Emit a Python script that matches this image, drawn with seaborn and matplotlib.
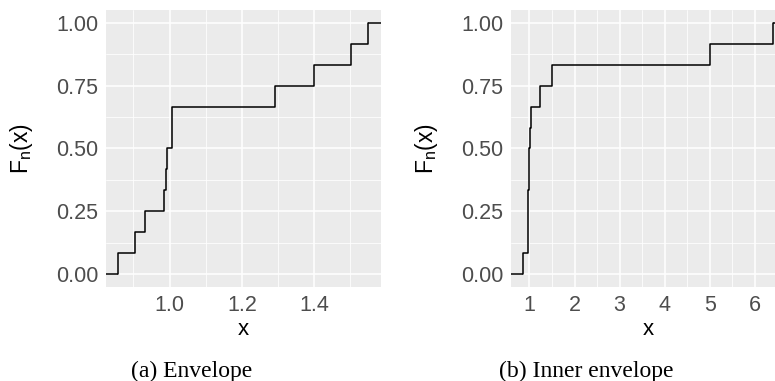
import numpy as np
import pandas as pd
import matplotlib
matplotlib.use("Agg")
import matplotlib.pyplot as plt
import seaborn as sns
from matplotlib.ticker import MultipleLocator

# ---- data ----
envelope = [0.8586, 0.9039, 0.9331, 0.9840, 0.9912, 0.9939,
            1.0070, 1.0080, 1.2906, 1.4000, 1.5014, 1.5503]
inner_envelope = [0.867, 0.968, 0.972, 0.976, 0.980, 1.000,
                  1.003, 1.044, 1.244, 1.497, 5.013, 6.390]
captions = ["(a) Envelope", "(b) Inner envelope"]
x_major = [0.2, 1.0]
y_ticks = [0.0, 0.25, 0.5, 0.75, 1.0]
y_tick_labels = ["0.00", "0.25", "0.50", "0.75", "1.00"]

sns.set_theme(style="darkgrid")
plt.rcParams["font.family"] = ["Liberation Sans", "DejaVu Sans"]
plt.rcParams["mathtext.fontset"] = "custom"
plt.rcParams["mathtext.rm"] = "Liberation Sans"
plt.rcParams["mathtext.it"] = "Liberation Sans"

W, H = 775, 381
fig = plt.figure(figsize=(W / 100, H / 100), dpi=100)

ax_bottom = (H - 287) / H
ax_height = 277 / H
ax1 = fig.add_axes([106 / W, ax_bottom, 275 / W, ax_height])
ax2 = fig.add_axes([511 / W, ax_bottom, 274 / W, ax_height])

datasets = [envelope, inner_envelope]
for ax, data, major in zip([ax1, ax2], datasets, x_major):
    df = pd.DataFrame({"x": data})
    ax.set_facecolor("#EBEBEB")
    lo, hi = min(data), max(data)
    pad = 0.05 * (hi - lo)
    xmin, xmax = lo - pad, hi + pad
    sns.ecdfplot(data=df, x="x", ax=ax, color="black", linewidth=1.1)
    # ggplot-style padding of the ecdf to the panel edges
    ax.plot([xmin, lo], [0, 0], color="black", linewidth=1.1, solid_capstyle="butt")
    ax.plot([hi, xmax], [1, 1], color="black", linewidth=1.1, solid_capstyle="butt")
    ax.set_xlim(xmin, xmax)
    ax.set_ylim(-0.05, 1.05)
    ax.xaxis.set_major_locator(MultipleLocator(major))
    ax.xaxis.set_minor_locator(MultipleLocator(major / 2))
    ax.set_yticks(y_ticks)
    ax.set_yticklabels(y_tick_labels)
    ax.yaxis.set_minor_locator(MultipleLocator(0.125))
    ax.grid(which="major", color="white", linewidth=1.1)
    ax.grid(which="minor", color="white", linewidth=0.55)
    ax.set_axisbelow(True)
    for s in ax.spines.values():
        s.set_visible(False)
    ax.tick_params(axis="both", which="major", length=3, width=0.9,
                   color="#333333", labelcolor="#4D4D4D", labelsize=15.5, pad=2.5)
    ax.tick_params(axis="both", which="minor", length=0)
    if major == 0.2:
        ax.xaxis.set_major_formatter(matplotlib.ticker.FormatStrFormatter("%.1f"))
    else:
        ax.xaxis.set_major_formatter(matplotlib.ticker.FormatStrFormatter("%d"))
    ax.set_xlabel("x", fontsize=16, color="black")
    ax.set_ylabel(r"$\mathregular{F_n(x)}$", fontsize=16.5, color="black")
    ax.xaxis.set_label_coords(0.5, -0.115)
    ax.yaxis.set_label_coords(-0.258, 0.5)

fig.text(192 / W, (H - 377) / H, captions[0], family="Liberation Serif",
         fontsize=17, ha="center", va="baseline", color="black")
fig.text(586 / W, (H - 377) / H, captions[1], family="Liberation Serif",
         fontsize=17, ha="center", va="baseline", color="black")

fig.savefig("out.png", dpi=100, facecolor="white")
